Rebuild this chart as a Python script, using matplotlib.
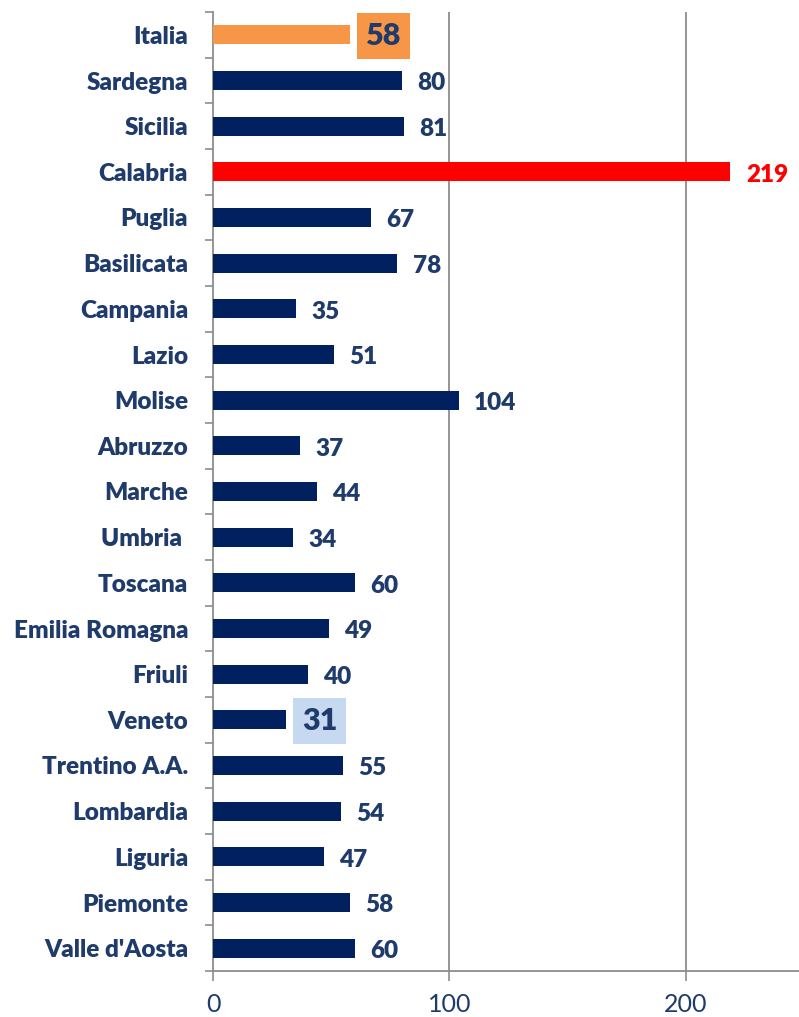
import matplotlib
matplotlib.use("Agg")
import matplotlib.pyplot as plt
import numpy as np

regions = ["Italia", "Sardegna", "Sicilia", "Calabria", "Puglia", "Basilicata",
           "Campania", "Lazio", "Molise", "Abruzzo", "Marche", "Umbria ",
           "Toscana", "Emilia Romagna", "Friuli", "Veneto", "Trentino A.A.",
           "Lombardia", "Liguria", "Piemonte", "Valle d'Aosta"]
values = [58, 80, 81, 219, 67, 78, 35, 51, 104, 37, 44, 34, 60, 49, 40, 31, 55, 54, 47, 58, 60]
xticks = [0, 100, 200]

navy = "#002060"
text_navy = "#1f3b6b"
colors = []
for r in regions:
    if r == "Italia":
        colors.append("#f79646")
    elif r == "Calabria":
        colors.append("#ff0000")
    else:
        colors.append(navy)

plt.rcParams['font.family'] = ['Lato', 'DejaVu Sans']
W = 'heavy'

fig = plt.figure(figsize=(7.99, 10.17), dpi=100)
ax = fig.add_axes([213/799, 1-971/1017, 1-213/799, (971-12)/1017])

n = len(regions)
y = np.arange(n)
ax.barh(y, values, height=0.42, color=colors, zorder=3)
ax.set_ylim(n-0.5, -0.5)
ax.set_xlim(0, 248)

ax.set_xticks(xticks)
ax.set_xticklabels([str(t) for t in xticks], fontsize=18, color=text_navy)
ax.set_yticks(y)
ax.set_yticklabels(regions, fontsize=17.5, fontweight=W, color=text_navy)
ax.tick_params(axis='y', which='major', length=0, pad=18)
ax.set_yticks(np.arange(-0.5, n, 1), minor=True)
ax.tick_params(axis='y', which='minor', length=6, color='#8c8c8c', width=1.2)
ax.tick_params(axis='x', which='major', length=7, color='#8c8c8c', width=1.2, pad=9)

for s in ['top', 'right']:
    ax.spines[s].set_visible(False)
for s in ['left', 'bottom']:
    ax.spines[s].set_color('#8c8c8c')
    ax.spines[s].set_linewidth(1.3)

for xv in [100, 200]:
    ax.axvline(xv, color='#8c8c8c', lw=1.3, zorder=1)

for i, (r, v) in enumerate(zip(regions, values)):
    if r == "Italia":
        ax.annotate(str(v), (v, i), xytext=(24, -1), textcoords='offset points',
                    ha='center', va='center', fontsize=22, fontweight=W, color=text_navy,
                    bbox=dict(boxstyle='square,pad=0.3', fc='#f79646', ec='none'), zorder=4)
    elif r == "Veneto":
        ax.annotate(str(v), (v, i), xytext=(24, -1), textcoords='offset points',
                    ha='center', va='center', fontsize=22, fontweight=W, color=text_navy,
                    bbox=dict(boxstyle='square,pad=0.3', fc='#c6d9f1', ec='none'), zorder=4)
    else:
        c = "#ff0000" if r == "Calabria" else text_navy
        ax.annotate(str(v), (v, i), xytext=(11, -2), textcoords='offset points',
                    ha='left', va='center', fontsize=17.5, fontweight=W, color=c, zorder=4)

fig.savefig("out.png", dpi=100)
